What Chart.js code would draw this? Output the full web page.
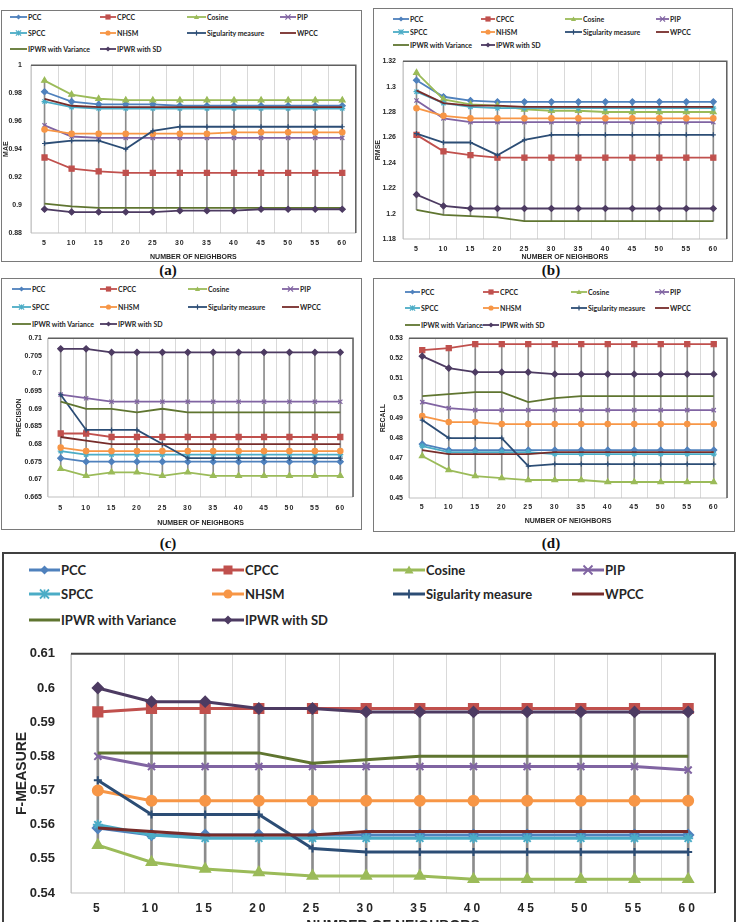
<!DOCTYPE html>
<html lang="en">
<head>
<meta charset="UTF-8" />
<title>Accuracy vs number of neighbors</title>
<script src="https://cdn.jsdelivr.net/npm/chart.js"></script>
<style>
  html, body { margin: 0; padding: 0; background: #fff; }
  body { position: relative; width: 738px; height: 922px; overflow: hidden; font-family: Lato, "Liberation Sans", sans-serif; }
  .box { position: absolute; box-sizing: border-box; border: 1.5px solid #7a7a7a; }
  .box.big { border: 2px solid #404040; }
  .item { position: absolute; display: flex; align-items: center; white-space: nowrap; font-weight: bold; color: #262626; }
  .item svg { display: block; flex: none; }
  .tag { position: absolute; transform: translate(-50%, -50%); font-family: "Liberation Serif", serif; font-weight: bold; font-size: 15px; color: #111; }
  canvas { position: absolute; }
</style>
</head>
<body>

<div class="tag" style="left:168px;top:270px">(a)</div>
<div class="tag" style="left:551px;top:270px">(b)</div>
<div class="tag" style="left:168px;top:543px">(c)</div>
<div class="tag" style="left:551px;top:543px">(d)</div>

<script>
// ---- data ----
const neighbors = [5, 10, 15, 20, 25, 30, 35, 40, 45, 50, 55, 60];
const seriesNames = ['PCC', 'CPCC', 'Cosine', 'PIP', 'SPCC', 'NHSM', 'Sigularity measure', 'WPCC', 'IPWR with Variance', 'IPWR with SD'];

// (a) MAE
const maeTicks = [0.88, 0.9, 0.92, 0.94, 0.96, 0.98, 1];
const maePCC    = [0.981, 0.974, 0.972, 0.972, 0.972, 0.971, 0.971, 0.971, 0.971, 0.971, 0.971, 0.971];
const maeCPCC   = [0.934, 0.926, 0.924, 0.923, 0.923, 0.923, 0.923, 0.923, 0.923, 0.923, 0.923, 0.923];
const maeCosine = [0.989, 0.979, 0.976, 0.975, 0.975, 0.975, 0.975, 0.975, 0.975, 0.975, 0.975, 0.975];
const maePIP    = [0.957, 0.949, 0.948, 0.948, 0.948, 0.948, 0.948, 0.948, 0.948, 0.948, 0.948, 0.948];
const maeSPCC   = [0.974, 0.970, 0.969, 0.969, 0.969, 0.969, 0.969, 0.969, 0.969, 0.969, 0.969, 0.969];
const maeNHSM   = [0.954, 0.951, 0.951, 0.951, 0.951, 0.951, 0.951, 0.952, 0.952, 0.952, 0.952, 0.952];
const maeSing   = [0.944, 0.946, 0.946, 0.940, 0.953, 0.956, 0.956, 0.956, 0.956, 0.956, 0.956, 0.956];
const maeWPCC   = [0.976, 0.971, 0.970, 0.970, 0.970, 0.970, 0.970, 0.970, 0.970, 0.970, 0.970, 0.970];
const maeVar    = [0.901, 0.899, 0.898, 0.898, 0.898, 0.898, 0.898, 0.898, 0.898, 0.898, 0.898, 0.898];
const maeSD     = [0.897, 0.895, 0.895, 0.895, 0.895, 0.896, 0.896, 0.896, 0.897, 0.897, 0.897, 0.897];

// (b) RMSE
const rmseTicks = [1.18, 1.2, 1.22, 1.24, 1.26, 1.28, 1.3, 1.32];
const rmsePCC    = [1.305, 1.292, 1.289, 1.288, 1.288, 1.288, 1.288, 1.288, 1.288, 1.288, 1.288, 1.288];
const rmseCPCC   = [1.262, 1.249, 1.246, 1.244, 1.244, 1.244, 1.244, 1.244, 1.244, 1.244, 1.244, 1.244];
const rmseCosine = [1.311, 1.290, 1.286, 1.285, 1.282, 1.281, 1.281, 1.280, 1.280, 1.280, 1.280, 1.280];
const rmsePIP    = [1.289, 1.275, 1.272, 1.272, 1.272, 1.272, 1.272, 1.272, 1.272, 1.272, 1.272, 1.272];
const rmseSPCC   = [1.296, 1.287, 1.284, 1.283, 1.283, 1.283, 1.283, 1.283, 1.283, 1.283, 1.283, 1.283];
const rmseNHSM   = [1.283, 1.277, 1.275, 1.275, 1.275, 1.275, 1.275, 1.275, 1.275, 1.275, 1.275, 1.275];
const rmseSing   = [1.263, 1.256, 1.256, 1.246, 1.258, 1.262, 1.262, 1.262, 1.262, 1.262, 1.262, 1.262];
const rmseWPCC   = [1.297, 1.287, 1.285, 1.285, 1.284, 1.284, 1.284, 1.284, 1.284, 1.284, 1.284, 1.284];
const rmseVar    = [1.203, 1.199, 1.198, 1.197, 1.194, 1.194, 1.194, 1.194, 1.194, 1.194, 1.194, 1.194];
const rmseSD     = [1.215, 1.206, 1.204, 1.204, 1.204, 1.204, 1.204, 1.204, 1.204, 1.204, 1.204, 1.204];

// (c) PRECISION
const precTicks = [0.665, 0.67, 0.675, 0.68, 0.685, 0.69, 0.695, 0.7, 0.705, 0.71];
const precPCC    = [0.676, 0.675, 0.675, 0.675, 0.675, 0.675, 0.675, 0.675, 0.675, 0.675, 0.675, 0.675];
const precCPCC   = [0.683, 0.683, 0.682, 0.682, 0.682, 0.682, 0.682, 0.682, 0.682, 0.682, 0.682, 0.682];
const precCosine = [0.673, 0.671, 0.672, 0.672, 0.671, 0.672, 0.671, 0.671, 0.671, 0.671, 0.671, 0.671];
const precPIP    = [0.694, 0.693, 0.692, 0.692, 0.692, 0.692, 0.692, 0.692, 0.692, 0.692, 0.692, 0.692];
const precSPCC   = [0.678, 0.677, 0.677, 0.677, 0.677, 0.677, 0.677, 0.677, 0.677, 0.677, 0.677, 0.677];
const precNHSM   = [0.679, 0.678, 0.678, 0.678, 0.678, 0.678, 0.678, 0.678, 0.678, 0.678, 0.678, 0.678];
const precSing   = [0.694, 0.684, 0.684, 0.684, 0.680, 0.676, 0.676, 0.676, 0.676, 0.676, 0.676, 0.676];
const precWPCC   = [0.682, 0.681, 0.680, 0.680, 0.680, 0.680, 0.680, 0.680, 0.680, 0.680, 0.680, 0.680];
const precVar    = [0.692, 0.690, 0.690, 0.689, 0.690, 0.689, 0.689, 0.689, 0.689, 0.689, 0.689, 0.689];
const precSD     = [0.707, 0.707, 0.706, 0.706, 0.706, 0.706, 0.706, 0.706, 0.706, 0.706, 0.706, 0.706];

// (d) RECALL
const recTicks = [0.45, 0.46, 0.47, 0.48, 0.49, 0.5, 0.51, 0.52, 0.53];
const recPCC    = [0.477, 0.474, 0.474, 0.474, 0.474, 0.474, 0.474, 0.474, 0.474, 0.474, 0.474, 0.474];
const recCPCC   = [0.524, 0.525, 0.527, 0.527, 0.527, 0.527, 0.527, 0.527, 0.527, 0.527, 0.527, 0.527];
const recCosine = [0.471, 0.464, 0.461, 0.460, 0.459, 0.459, 0.459, 0.458, 0.458, 0.458, 0.458, 0.458];
const recPIP    = [0.498, 0.495, 0.494, 0.494, 0.494, 0.494, 0.494, 0.494, 0.494, 0.494, 0.494, 0.494];
const recSPCC   = [0.476, 0.473, 0.473, 0.473, 0.473, 0.472, 0.472, 0.472, 0.472, 0.472, 0.472, 0.472];
const recNHSM   = [0.491, 0.488, 0.488, 0.487, 0.487, 0.487, 0.487, 0.487, 0.487, 0.487, 0.487, 0.487];
const recSing   = [0.489, 0.480, 0.480, 0.480, 0.466, 0.467, 0.467, 0.467, 0.467, 0.467, 0.467, 0.467];
const recWPCC   = [0.474, 0.472, 0.472, 0.472, 0.472, 0.473, 0.473, 0.473, 0.473, 0.473, 0.473, 0.473];
const recVar    = [0.501, 0.502, 0.503, 0.503, 0.498, 0.500, 0.501, 0.501, 0.501, 0.501, 0.501, 0.501];
const recSD     = [0.521, 0.515, 0.513, 0.513, 0.513, 0.512, 0.512, 0.512, 0.512, 0.512, 0.512, 0.512];

// (e) F-MEASURE
const fmTicks = [0.54, 0.55, 0.56, 0.57, 0.58, 0.59, 0.6, 0.61];
const fmPCC    = [0.559, 0.557, 0.557, 0.557, 0.557, 0.557, 0.557, 0.557, 0.557, 0.557, 0.557, 0.557];
const fmCPCC   = [0.593, 0.594, 0.594, 0.594, 0.594, 0.594, 0.594, 0.594, 0.594, 0.594, 0.594, 0.594];
const fmCosine = [0.554, 0.549, 0.547, 0.546, 0.545, 0.545, 0.545, 0.544, 0.544, 0.544, 0.544, 0.544];
const fmPIP    = [0.580, 0.577, 0.577, 0.577, 0.577, 0.577, 0.577, 0.577, 0.577, 0.577, 0.577, 0.576];
const fmSPCC   = [0.560, 0.557, 0.556, 0.556, 0.556, 0.556, 0.556, 0.556, 0.556, 0.556, 0.556, 0.556];
const fmNHSM   = [0.570, 0.567, 0.567, 0.567, 0.567, 0.567, 0.567, 0.567, 0.567, 0.567, 0.567, 0.567];
const fmSing   = [0.573, 0.563, 0.563, 0.563, 0.553, 0.552, 0.552, 0.552, 0.552, 0.552, 0.552, 0.552];
const fmWPCC   = [0.559, 0.558, 0.557, 0.557, 0.557, 0.558, 0.558, 0.558, 0.558, 0.558, 0.558, 0.558];
const fmVar    = [0.581, 0.581, 0.581, 0.581, 0.578, 0.579, 0.580, 0.580, 0.580, 0.580, 0.580, 0.580];
const fmSD     = [0.600, 0.596, 0.596, 0.594, 0.594, 0.593, 0.593, 0.593, 0.593, 0.593, 0.593, 0.593];

// ---- styles (Excel 2010 palette) ----
const colors  = ['#4F81BD', '#C0504D', '#9BBB59', '#8064A2', '#4BACC6', '#F79646', '#2C4D75', '#772C2A', '#5F7530', '#4D3B62'];
const markers = ['rectRot', 'rect', 'triangle', 'crossRot', 'star', 'circle', 'cross', 'line', 'line', 'rectRot'];
const radSmall = { rectRot: 3, rect: 3.6, triangle: 3.3, crossRot: 3, star: 3, circle: 2.7, cross: 2.5, line: 0 };
const radBig   = { rectRot: 5, rect: 6.5, triangle: 5.5, crossRot: 5, star: 5, circle: 5, cross: 4, line: 0 };

// draws plot edges + switches on letter spacing for the x tick labels
const plotFrame = {
  id: 'plotFrame',
  beforeDatasetsDraw(chart, args, o) {
    const { ctx, chartArea: a } = chart;
    ctx.save();
    ctx.lineWidth = 1;
    ctx.strokeStyle = '#bfbfbf';
    ctx.beginPath();
    ctx.moveTo(a.left, a.top); ctx.lineTo(a.left, a.bottom); ctx.lineTo(a.right, a.bottom);
    ctx.stroke();
    ctx.lineWidth = o.width;
    ctx.strokeStyle = o.color;
    ctx.beginPath();
    ctx.moveTo(a.left, a.top); ctx.lineTo(a.right, a.top); ctx.lineTo(a.right, a.bottom);
    ctx.stroke();
    ctx.restore();
  },
  afterDatasetsDraw(chart, args, o) { chart.ctx.letterSpacing = o.spacing + 'px'; },
  afterDraw(chart) { chart.ctx.letterSpacing = '0px'; }
};

function markerSvg(style, c, cx, cy, r, lw) {
  const x = 'M' + (cx - r) + ' ' + (cy - r) + 'L' + (cx + r) + ' ' + (cy + r) + 'M' + (cx + r) + ' ' + (cy - r) + 'L' + (cx - r) + ' ' + (cy + r);
  const v = 'M' + cx + ' ' + (cy - r) + 'L' + cx + ' ' + (cy + r);
  switch (style) {
    case 'rectRot': return `<polygon points="${cx},${cy - r} ${cx + r},${cy} ${cx},${cy + r} ${cx - r},${cy}" fill="${c}"/>`;
    case 'rect': return `<rect x="${cx - r}" y="${cy - r}" width="${2 * r}" height="${2 * r}" fill="${c}"/>`;
    case 'triangle': return `<polygon points="${cx},${cy - r} ${cx + r},${cy + r * 0.8} ${cx - r},${cy + r * 0.8}" fill="${c}"/>`;
    case 'circle': return `<circle cx="${cx}" cy="${cy}" r="${r}" fill="${c}"/>`;
    case 'crossRot': return `<path d="${x}" stroke="${c}" stroke-width="${lw}"/>`;
    case 'star': return `<path d="${x}${v}" stroke="${c}" stroke-width="${lw}"/>`;
    case 'cross': return `<path d="${v}" stroke="${c}" stroke-width="${lw}"/>`;
    default: return '';
  }
}

function buildLegend(p) {
  const h = p.big ? 14 : 8;
  const r = p.big ? 4.5 : 2.6;
  seriesNames.forEach((name, k) => {
    const row = Math.floor(k / 4), col = k % 4;
    const len = p.legText[col] - p.legSym[col] - 1;
    const cy = h / 2, lw = p.big ? 3 : 1.8;
    const div = document.createElement('div');
    div.className = 'item';
    div.style.left = p.legSym[col] + 'px';
    div.style.top = (p.legRows[row] - h / 2) + 'px';
    div.style.height = h + 'px';
    div.style.fontSize = p.legFont + 'px';
    div.innerHTML = `<svg width="${len}" height="${h}"><line x1="0" y1="${cy}" x2="${len}" y2="${cy}" stroke="${colors[k]}" stroke-width="${lw}"/>` +
      markerSvg(markers[k], colors[k], len / 2, cy, r, p.big ? 1.8 : 1.2) + `</svg><span style="margin-left:1px">${name}</span>`;
    document.body.appendChild(div);
  });
}

function drawPanel(p) {
  const box = document.createElement('div');
  box.className = p.big ? 'box big' : 'box';
  box.style.cssText += `left:${p.box[0]}px;top:${p.box[1]}px;width:${p.box[2]}px;height:${p.box[3]}px;`;
  document.body.appendChild(box);
  buildLegend(p);

  const [cx, cy, cw, ch] = p.canvas;
  const [pl, pt, pr, pb] = p.plot;
  const cv = document.createElement('canvas');
  cv.width = cw; cv.height = ch;
  cv.style.left = cx + 'px'; cv.style.top = cy + 'px';
  document.body.appendChild(cv);

  const rad = p.big ? radBig : radSmall;
  // high-low lines: from the lowest to the highest series at each x
  const hiLo = neighbors.map((_, i) => {
    const v = p.series.map(s => s[i]);
    return [Math.min(...v), Math.max(...v)];
  });
  const datasets = [{
    type: 'bar', data: hiLo, backgroundColor: '#8c8c8c', borderWidth: 0,
    barThickness: p.big ? 2 : 1, order: 100
  }];
  p.series.forEach((s, k) => datasets.push({
    type: 'line', label: seriesNames[k], data: s,
    borderColor: colors[k], backgroundColor: colors[k],
    pointBackgroundColor: colors[k], pointBorderColor: colors[k],
    borderWidth: p.big ? 3 : 1.8, tension: 0, fill: false,
    pointStyle: markers[k], pointRadius: rad[markers[k]], pointBorderWidth: p.big ? 2 : 1.2,
    order: p.series.length - k
  }));

  const fs = p.big ? { tick: 12, ytick: 13, title: 14 } : { tick: 7, ytick: 7, title: 7 };
  new Chart(cv, {
    type: 'line',
    data: { labels: neighbors, datasets },
    options: {
      responsive: false, animation: false, events: [], devicePixelRatio: 1,
      layout: { padding: { left: 0, top: pt - cy, right: cx + cw - pr, bottom: 0 } },
      plugins: {
        legend: { display: false }, tooltip: { enabled: false },
        plotFrame: { color: p.big ? '#404040' : '#5f5f5f', width: p.big ? 2 : 1.5, spacing: p.big ? 3 : 1 }
      },
      scales: {
        x: {
          type: 'category', offset: true,
          grid: { offset: true, color: '#d9d9d9', lineWidth: 1, drawTicks: false },
          border: { display: false },
          ticks: { color: '#262626', font: { size: fs.tick, weight: 'bold' }, padding: p.xPad, maxRotation: 0, autoSkip: false, z: 1 },
          title: { display: true, text: 'NUMBER OF NEIGHBORS', color: '#262626', font: { size: fs.title, weight: 'bold' }, padding: { top: 0, bottom: p.xTitlePad } },
          afterFit: s => { s.height = cy + ch - pb; }
        },
        y: {
          type: 'linear', min: p.ticks[0], max: p.ticks[p.ticks.length - 1],
          afterBuildTicks: s => { s.ticks = p.ticks.map(v => ({ value: v })); },
          grid: { display: false, drawTicks: false },
          border: { display: false },
          ticks: { color: '#262626', font: { size: fs.ytick, weight: 'bold' }, padding: p.yPad, callback: v => String(+v.toFixed(3)) },
          title: { display: true, text: p.yTitle, color: '#262626', font: { size: fs.title, weight: 'bold' }, padding: { top: p.yTitlePad, bottom: 0 } },
          afterFit: s => { s.width = pl - cx; }
        }
      }
    },
    plugins: [plotFrame]
  });
}

// (a) MAE
drawPanel({
  series: [maePCC, maeCPCC, maeCosine, maePIP, maeSPCC, maeNHSM, maeSing, maeWPCC, maeVar, maeSD],
  ticks: maeTicks, yTitle: 'MAE',
  box: [1, 10, 361, 252], canvas: [2, 52, 359, 209], plot: [31, 62, 358, 233],
  xPad: 6, xTitlePad: 0, yPad: 9, yTitlePad: 0,
  legRows: [17, 33, 49], legSym: [10, 100, 187, 280], legText: [28, 117, 207, 297], legFont: 7
});

// (b) RMSE
drawPanel({
  series: [rmsePCC, rmseCPCC, rmseCosine, rmsePIP, rmseSPCC, rmseNHSM, rmseSing, rmseWPCC, rmseVar, rmseSD],
  ticks: rmseTicks, yTitle: 'RMSE',
  box: [373, 8, 360, 254], canvas: [374, 50, 358, 211], plot: [403, 59, 727, 239],
  xPad: 6, xTitlePad: 0, yPad: 7, yTitlePad: 0,
  legRows: [19, 32, 45], legSym: [393, 481, 565, 656], legText: [410, 496, 583, 670], legFont: 7
});

// (c) PRECISION
drawPanel({
  series: [precPCC, precCPCC, precCosine, precPIP, precSPCC, precNHSM, precSing, precWPCC, precVar, precSD],
  ticks: precTicks, yTitle: 'PRECISION',
  box: [1, 278, 361, 252], canvas: [2, 328, 359, 201], plot: [48, 335, 353, 497],
  xPad: 7, xTitlePad: 2, yPad: 6, yTitlePad: 13,
  legRows: [289, 307, 324], legSym: [12, 100, 188, 282], legText: [32, 118, 208, 300], legFont: 7
});

// (d) RECALL
drawPanel({
  series: [recPCC, recCPCC, recCosine, recPIP, recSPCC, recNHSM, recSing, recWPCC, recVar, recSD],
  ticks: recTicks, yTitle: 'RECALL',
  box: [373, 278, 362, 254], canvas: [374, 328, 360, 203], plot: [409, 336, 727, 498],
  xPad: 5, xTitlePad: 6, yPad: 6, yTitlePad: 5,
  legRows: [292, 308, 325], legSym: [405, 483, 571, 655], legText: [421, 500, 588, 670], legFont: 7
});

// (e) F-MEASURE, large panel at the bottom
drawPanel({
  big: true,
  series: [fmPCC, fmCPCC, fmCosine, fmPIP, fmSPCC, fmNHSM, fmSing, fmWPCC, fmVar, fmSD],
  ticks: fmTicks, yTitle: 'F-MEASURE',
  box: [2, 552, 734, 380], canvas: [3, 630, 730, 310], plot: [71, 638, 715, 893],
  xPad: 8, xTitlePad: 5.6, yPad: 16, yTitlePad: 10.6,
  legRows: [570, 594, 620], legSym: [29, 212, 393, 572], legText: [61, 245, 426, 605], legFont: 13
});
</script>

</body>
</html>
